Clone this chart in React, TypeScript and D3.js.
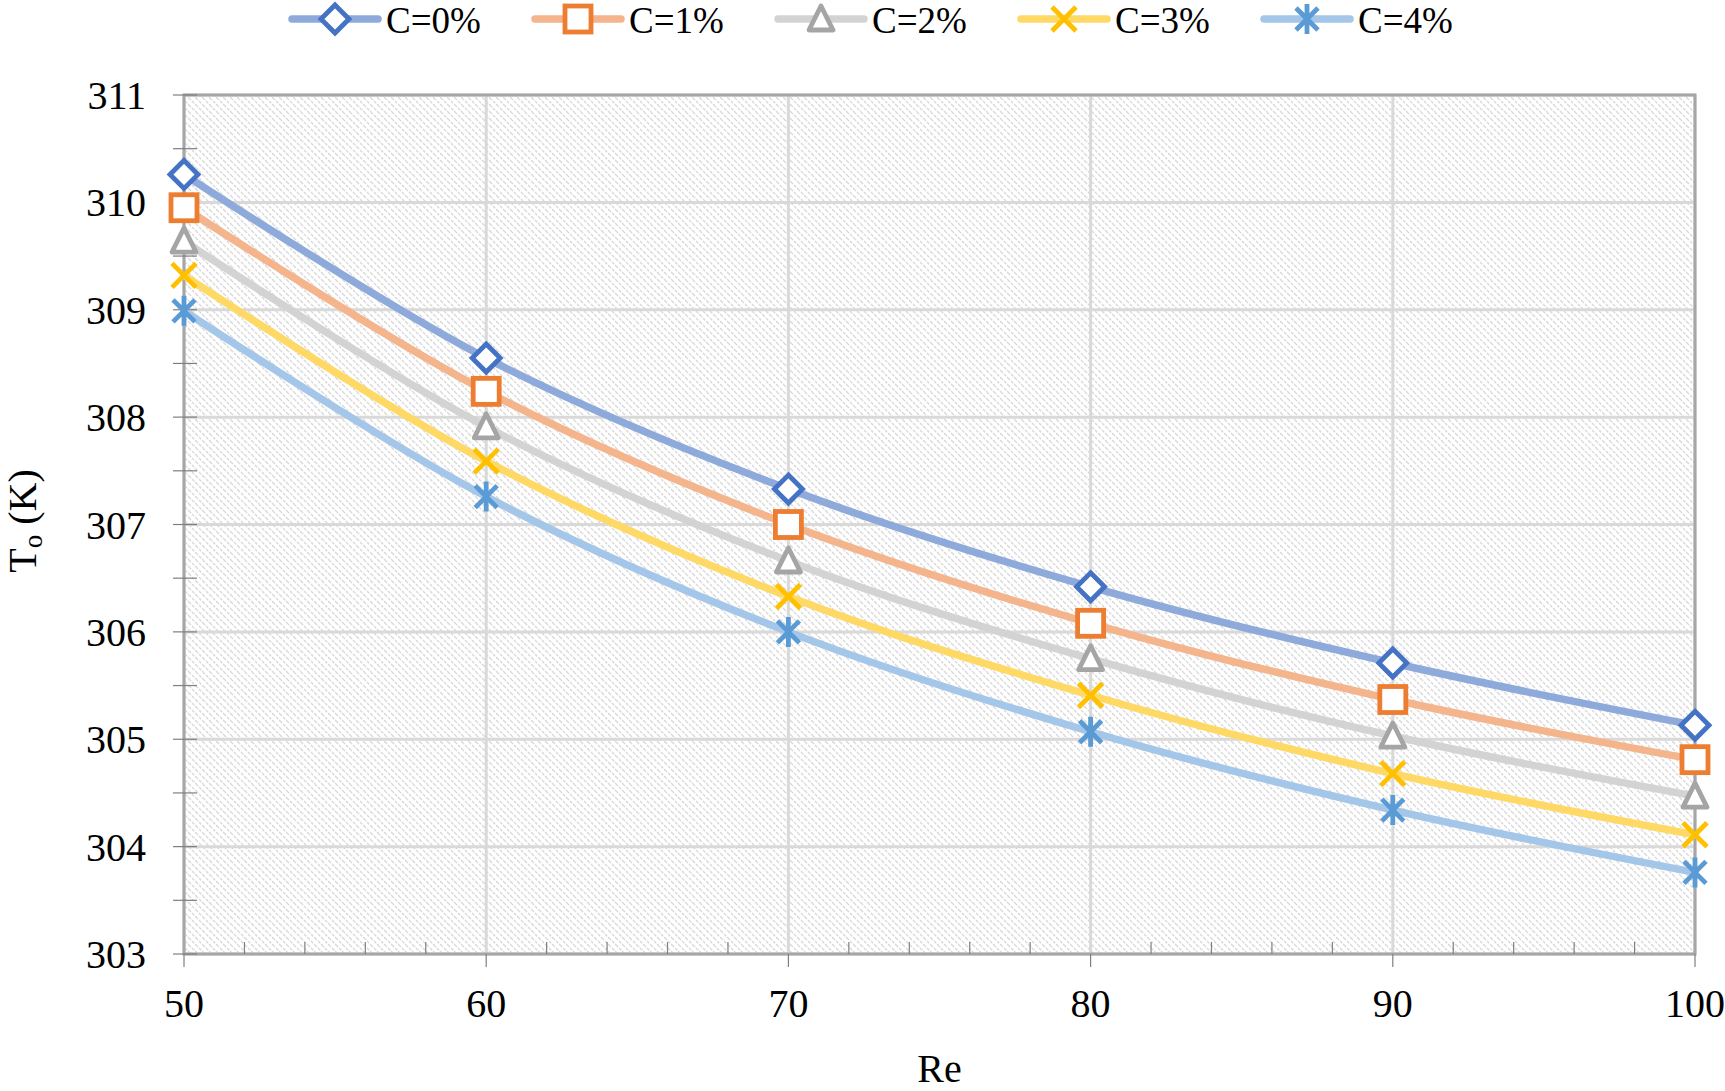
import React, { useEffect, useRef } from 'react';
import * as d3 from 'd3';

const reValues = [50, 60, 70, 80, 90, 100];
const seriesNames = ['C=0%', 'C=1%', 'C=2%', 'C=3%', 'C=4%'];
const c0 = [310.26, 308.55, 307.33, 306.42, 305.71, 305.13];
const c1 = [309.95, 308.24, 307.0, 306.08, 305.37, 304.81];
const c2 = [309.64, 307.91, 306.66, 305.75, 305.03, 304.47];
const c3 = [309.32, 307.59, 306.33, 305.41, 304.68, 304.11];
const c4 = [308.99, 307.26, 306.0, 305.07, 304.34, 303.76];
const yTicks = [303, 304, 305, 306, 307, 308, 309, 310, 311];

const seriesValues = [c0, c1, c2, c3, c4];
const markerColors = ['#4472c4', '#ed7d31', '#a5a5a5', '#ffc000', '#5b9bd5'];
const lineColors = ['#8eaadb', '#f4b48c', '#d3d3d3', '#ffd966', '#a4c6e8'];
const markerKinds = ['diamond', 'square', 'triangle', 'x', 'star'];

const W = 1725;
const H = 1091;
const m = { left: 184, right: 1695, top: 95, bottom: 954 };

const drawMarker = (g: d3.Selection<SVGGElement, unknown, null, undefined>, kind: string, color: string) => {
  const sw = 4.8;
  if (kind === 'diamond') {
    g.append('path').attr('d', 'M0,-14L14,0L0,14L-14,0Z').attr('fill', '#fff').attr('stroke', color).attr('stroke-width', sw);
  } else if (kind === 'square') {
    g.append('rect').attr('x', -13).attr('y', -13).attr('width', 26).attr('height', 26)
      .attr('fill', '#fff').attr('stroke', color).attr('stroke-width', sw);
  } else if (kind === 'triangle') {
    g.append('path').attr('d', 'M0,-13L12,11L-12,11Z').attr('fill', '#fff').attr('stroke', color)
      .attr('stroke-width', sw).attr('stroke-linejoin', 'round');
  } else if (kind === 'x') {
    g.append('path').attr('d', 'M-12,-12L12,12M-12,12L12,-12').attr('stroke', color).attr('stroke-width', sw);
  } else {
    g.append('path').attr('d', 'M-11,-11L11,11M-11,11L11,-11M0,-15L0,15').attr('stroke', color).attr('stroke-width', sw);
  }
};

const App: React.FC = () => {
  const svgRef = useRef<SVGSVGElement>(null);

  useEffect(() => {
    if (!svgRef.current) return;
    const svg = d3.select(svgRef.current);
    svg.selectAll('*').remove();

    const x = d3.scaleLinear().domain([50, 100]).range([m.left, m.right]);
    const y = d3.scaleLinear().domain([303, 311]).range([m.bottom, m.top]);

    // hatched plot background
    const defs = svg.append('defs');
    const pat = defs.append('pattern').attr('id', 'hatch').attr('patternUnits', 'userSpaceOnUse')
      .attr('width', 7).attr('height', 7);
    pat.append('rect').attr('width', 7).attr('height', 7).attr('fill', '#fff');
    pat.append('path').attr('d', 'M0,0L7,7M-1,6L1,8M6,-1L8,1')
      .attr('stroke', '#d9d9d9').attr('stroke-width', 1.4).attr('stroke-dasharray', '3,1.3');

    svg.append('rect').attr('x', m.left).attr('y', m.top)
      .attr('width', m.right - m.left).attr('height', m.bottom - m.top).attr('fill', 'url(#hatch)');

    // gridlines
    const grid = svg.append('g').attr('stroke', '#d9d9d9').attr('stroke-width', 3);
    yTicks.forEach(t => {
      grid.append('line').attr('x1', m.left).attr('x2', m.right).attr('y1', y(t)).attr('y2', y(t));
    });
    reValues.forEach(t => {
      grid.append('line').attr('x1', x(t)).attr('x2', x(t)).attr('y1', m.top).attr('y2', m.bottom);
    });

    // border
    svg.append('rect').attr('x', m.left).attr('y', m.top)
      .attr('width', m.right - m.left).attr('height', m.bottom - m.top)
      .attr('fill', 'none').attr('stroke', '#a6a6a6').attr('stroke-width', 3);

    // ticks
    const ticks = svg.append('g').attr('stroke', '#7f7f7f').attr('stroke-width', 1.2);
    d3.range(303, 311.01, 0.5).forEach(t => {
      ticks.append('line').attr('x1', m.left - 11).attr('x2', m.left + 13).attr('y1', y(t)).attr('y2', y(t));
    });
    d3.range(50, 100.01, 2).forEach(t => {
      const major = t % 10 === 0;
      ticks.append('line').attr('x1', x(t)).attr('x2', x(t))
        .attr('y1', major ? m.bottom : m.bottom - 12).attr('y2', major ? m.bottom + 13 : m.bottom);
    });

    const font = "'Liberation Serif', 'Times New Roman', serif";

    // tick labels
    yTicks.forEach(t => {
      svg.append('text').attr('x', 146).attr('y', y(t)).attr('dy', '0.35em')
        .attr('text-anchor', 'end').attr('font-family', font).attr('font-size', 40).text(t);
    });
    reValues.forEach(t => {
      svg.append('text').attr('x', x(t)).attr('y', 1017)
        .attr('text-anchor', 'middle').attr('font-family', font).attr('font-size', 40).text(t);
    });

    // axis titles
    svg.append('text').attr('x', x(75)).attr('y', 1082).attr('text-anchor', 'middle')
      .attr('font-family', font).attr('font-size', 40).text('Re');
    const yt = svg.append('text').attr('transform', `translate(36,521) rotate(-90)`)
      .attr('text-anchor', 'middle').attr('font-family', font).attr('font-size', 40);
    yt.append('tspan').text('T');
    yt.append('tspan').attr('font-size', 27).attr('dy', 6).text('o');
    yt.append('tspan').attr('dy', -6).text(' (K)');

    // series
    const line = d3.line<number>()
      .x((_, i) => x(reValues[i]))
      .y(d => y(d))
      .curve(d3.curveCatmullRom.alpha(0.5));

    seriesValues.forEach((vals, s) => {
      svg.append('path').attr('d', line(vals)).attr('fill', 'none')
        .attr('stroke', lineColors[s]).attr('stroke-width', 7.5).attr('stroke-linecap', 'round');
    });
    seriesValues.forEach((vals, s) => {
      vals.forEach((v, i) => {
        const g = svg.append('g').attr('transform', `translate(${x(reValues[i])},${y(v)})`);
        drawMarker(g, markerKinds[s], markerColors[s]);
      });
    });

    // legend
    const legendX = d3.range(5).map(i => 292 + i * 243);
    seriesNames.forEach((name, s) => {
      const lx = legendX[s];
      const ly = 19;
      svg.append('line').attr('x1', lx).attr('x2', lx + 86).attr('y1', ly).attr('y2', ly)
        .attr('stroke', lineColors[s]).attr('stroke-width', 7.5).attr('stroke-linecap', 'round');
      const g = svg.append('g').attr('transform', `translate(${lx + 43},${ly})`);
      drawMarker(g, markerKinds[s], markerColors[s]);
      svg.append('text').attr('x', lx + 94).attr('y', 33)
        .attr('font-family', font).attr('font-size', 37).text(name);
    });
  }, []);

  return (
    <svg ref={svgRef} width={W} height={H} viewBox={`0 0 ${W} ${H}`}
      style={{ position: 'absolute', left: 0, top: 0, background: '#fff' }} />
  );
};

export default App;
